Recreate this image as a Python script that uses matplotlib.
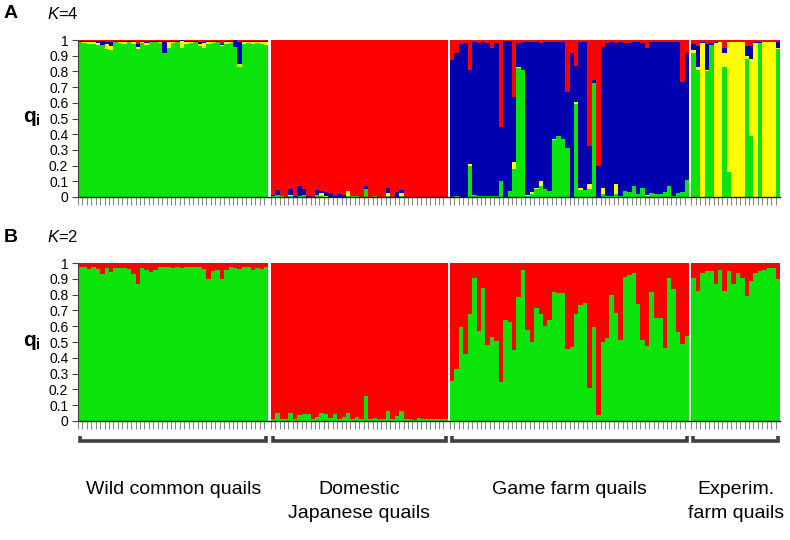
import matplotlib
matplotlib.use('Agg')
import matplotlib.pyplot as plt
import numpy as np

plt.rcParams['font.family'] = ['Liberation Sans', 'DejaVu Sans']
plt.rcParams['mathtext.fontset'] = 'custom'
plt.rcParams['mathtext.rm'] = 'Liberation Sans'
plt.rcParams['mathtext.it'] = 'Liberation Sans:italic'
plt.rcParams['mathtext.bf'] = 'Liberation Sans:bold'

# population labels under the brackets
groups = ['Wild common quails', 'Domestic\nJapanese quails',
          'Game farm quails', 'Experim.\nfarm quails']

# ---- K=4 membership (green, yellow, blue; red is the rest) ----
wild_k4_green = [0.985, 0.98, 0.975, 0.975, 0.97, 0.965, 0.945, 0.935, 0.985, 0.98,
                 0.975, 0.985, 0.975, 0.945, 0.98, 0.965, 0.985, 0.985, 0.98, 0.915,
                 0.95, 0.98, 0.985, 0.95, 0.975, 0.98, 0.985, 0.96, 0.95, 0.975,
                 0.98, 0.985, 0.96, 0.975, 0.98, 0.955, 0.83, 0.975, 0.98, 0.975,
                 0.98, 0.975, 0.965]
wild_k4_yellow = [0.005, 0.008, 0.01, 0.012, 0.01, 0.005, 0.03, 0.025, 0.005, 0.008,
                  0.01, 0.005, 0.012, 0.01, 0.005, 0.015, 0.005, 0.005, 0.008, 0.005,
                  0.04, 0.008, 0.005, 0.045, 0.01, 0.008, 0.005, 0.015, 0.03, 0.01,
                  0.008, 0.005, 0.005, 0.01, 0.008, 0.003, 0.015, 0.01, 0.008, 0.01,
                  0.008, 0.01, 0.025]
wild_k4_blue = [0.005, 0.007, 0.008, 0.006, 0.012, 0.025, 0.015, 0.03, 0.005, 0.006,
                0.008, 0.005, 0.008, 0.02, 0.008, 0.01, 0.005, 0.005, 0.007, 0.075,
                0.005, 0.007, 0.005, 0.003, 0.008, 0.007, 0.005, 0.015, 0.01, 0.008,
                0.006, 0.005, 0.01, 0.008, 0.007, 0.04, 0.14, 0.008, 0.006, 0.008,
                0.006, 0.008, 0.005]

dom_k4_green = [0.005, 0.01, 0.005, 0, 0.005, 0, 0.005, 0.01, 0, 0,
                0.01, 0.005, 0, 0, 0, 0, 0.003, 0.005, 0.005, 0.004,
                0, 0.049, 0, 0.004, 0, 0, 0.005, 0, 0, 0.005,
                0, 0, 0, 0, 0, 0, 0, 0, 0, 0]
dom_k4_yellow = [0, 0, 0, 0, 0.005, 0, 0, 0, 0, 0,
                 0, 0.023, 0.005, 0, 0, 0, 0, 0.033, 0, 0,
                 0, 0.004, 0, 0, 0, 0, 0.02, 0, 0, 0.02,
                 0, 0, 0, 0, 0, 0, 0, 0, 0, 0]
dom_k4_blue = [0.005, 0.033, 0, 0, 0.04, 0.005, 0.063, 0.04, 0.006, 0,
               0.033, 0.01, 0.027, 0.026, 0.005, 0.017, 0.007, 0, 0, 0,
               0, 0.015, 0, 0, 0, 0, 0.032, 0, 0.032, 0.018,
               0, 0, 0, 0, 0, 0, 0, 0, 0, 0]

game_k4_green = [0, 0.005, 0.003, 0.003, 0.198, 0.01, 0.005, 0.008, 0.008, 0.008,
                 0.008, 0.1, 0.003, 0.036, 0.18, 0.82, 0.808, 0.005, 0.02, 0.05,
                 0.07, 0.05, 0.036, 0.366, 0.387, 0.37, 0.313, 0, 0.59, 0.047,
                 0.047, 0.053, 0.723, 0, 0.017, 0.005, 0.005, 0.017, 0.005, 0.036,
                 0.032, 0.07, 0.02, 0.057, 0.004, 0.025, 0.02, 0.02, 0.03, 0.07,
                 0.006, 0.028, 0.03, 0.11]
game_k4_yellow = [0, 0, 0, 0, 0.015, 0, 0, 0, 0, 0,
                  0, 0, 0, 0, 0.04, 0.005, 0, 0.005, 0.01, 0.01,
                  0.03, 0, 0, 0.006, 0, 0, 0, 0, 0.016, 0.013,
                  0, 0.027, 0.005, 0, 0.04, 0, 0, 0.063, 0, 0,
                  0, 0, 0, 0, 0.006, 0, 0, 0, 0, 0,
                  0, 0, 0, 0]
game_k4_blue = [0.872, 0.91, 0.969, 0.977, 0.595, 0.98, 0.975, 0.977, 0.972, 0.942,
                0.972, 0.347, 0.991, 0.958, 0.418, 0.155, 0.182, 0.98, 0.96, 0.925,
                0.88, 0.935, 0.95, 0.613, 0.6, 0.615, 0.357, 0.915, 0.23, 0.93,
                0.943, 0.246, 0.017, 0.198, 0.9, 0.975, 0.98, 0.9, 0.985, 0.944,
                0.95, 0.915, 0.965, 0.925, 0.94, 0.96, 0.965, 0.965, 0.955, 0.915,
                0.98, 0.96, 0.704, 0.805]

exp_k4_green = [0.92, 0.81, 0.0, 0.80, 0.97, 0.0, 0.0, 0.83, 0.16, 0.0,
                0.0, 0.0, 0.88, 0.39, 0.0, 0.98, 0.0, 0.0, 0.0, 0.94]
exp_k4_yellow = [0.015, 0.02, 0.98, 0.01, 0.0, 0.98, 0.99, 0.09, 0.825, 0.99,
                 0.99, 0.985, 0.02, 0.49, 0.98, 0.0, 0.99, 0.985, 0.985, 0.01]
exp_k4_blue = [0.04, 0.13, 0.01, 0.165, 0.01, 0.005, 0.0, 0.03, 0.005, 0.0,
               0.0, 0.0, 0.06, 0.08, 0.005, 0.005, 0.0, 0.0, 0.0, 0.035]

# ---- K=2 membership (green; red is the rest) ----
wild_k2_green = [0.977, 0.972, 0.962, 0.977, 0.962, 0.93, 0.968, 0.943, 0.968, 0.968,
                 0.968, 0.962, 0.93, 0.867, 0.968, 0.958, 0.943, 0.958, 0.975, 0.972,
                 0.972, 0.968, 0.972, 0.968, 0.975, 0.977, 0.977, 0.972, 0.964, 0.9,
                 0.951, 0.958, 0.9, 0.958, 0.975, 0.968, 0.962, 0.972, 0.972, 0.958,
                 0.968, 0.962, 0.972]
dom_k2_green = [0.01, 0.053, 0.01, 0.01, 0.053, 0.015, 0.036, 0.044, 0.047, 0.015,
                0.025, 0.053, 0.047, 0.02, 0.044, 0.015, 0.025, 0.053, 0.015, 0.025,
                0.015, 0.159, 0.015, 0.02, 0.015, 0.015, 0.061, 0.015, 0.03, 0.061,
                0.01, 0.01, 0.006, 0.02, 0.015, 0.01, 0.01, 0.01, 0.01, 0.01]
game_k2_green = [0.254, 0.326, 0.597, 0.426, 0.676, 0.905, 0.57, 0.841, 0.479, 0.534,
                 0.506, 0.248, 0.638, 0.627, 0.449, 0.782, 0.958, 0.576, 0.5, 0.718,
                 0.676, 0.6, 0.64, 0.816, 0.809, 0.81, 0.453, 0.47, 0.676, 0.735,
                 0.746, 0.206, 0.597, 0.04, 0.498, 0.528, 0.8, 0.682, 0.513, 0.909,
                 0.926, 0.936, 0.74, 0.513, 0.475, 0.816, 0.655, 0.655, 0.464, 0.905,
                 0.835, 0.561, 0.485, 0.54]
exp_k2_green = [0.905, 0.82, 0.937, 0.947, 0.947, 0.87, 0.954, 0.82, 0.947, 0.87,
                0.937, 0.905, 0.79, 0.884, 0.937, 0.947, 0.958, 0.968, 0.968, 0.9]

GREEN = '#0be40b'
YELLOW = '#ffff00'
BLUE = '#0000b0'
RED = '#ff0000'

gap = 0.5
sizes = [len(wild_k2_green), len(dom_k2_green), len(game_k2_green), len(exp_k2_green)]
lefts = []
spans = []
start = 0.0
for n in sizes:
    lefts.extend(start + np.arange(n))
    spans.append((start, start + n))
    start += n + gap
lefts = np.array(lefts)
xmax = spans[-1][1]

k4_green = np.array(wild_k4_green + dom_k4_green + game_k4_green + exp_k4_green)
k4_yellow = np.array(wild_k4_yellow + dom_k4_yellow + game_k4_yellow + exp_k4_yellow)
k4_blue = np.array(wild_k4_blue + dom_k4_blue + game_k4_blue + exp_k4_blue)
k4_red = np.clip(1 - k4_green - k4_yellow - k4_blue, 0, 1)
k2_green = np.array(wild_k2_green + dom_k2_green + game_k2_green + exp_k2_green)
k2_red = 1 - k2_green


def draw_structure(ax, props, colors):
    bottom = np.zeros(len(lefts))
    for p, c in zip(props, colors):
        ax.bar(lefts, p, width=1, bottom=bottom, align='edge', color=c,
               linewidth=0, antialiased=False)
        bottom = bottom + p
    ax.set_xlim(0, xmax)
    ax.set_ylim(0, 1)
    ax.set_yticks(np.arange(0, 1.01, 0.1))
    ax.set_yticklabels(['0'] + ['%.1f' % v for v in np.arange(0.1, 0.95, 0.1)] + ['1'])
    ax.set_xticks(lefts)
    ax.tick_params(axis='x', length=6, width=0.8, color='#8a8a8a', labelbottom=False)
    ax.tick_params(axis='y', length=4, width=0.8, color='#444444', labelsize=10, pad=3)
    for s in ['top', 'right']:
        ax.spines[s].set_visible(False)
    ax.spines['left'].set_color('#444444')
    ax.spines['left'].set_linewidth(0.8)
    ax.spines['bottom'].set_color('#222222')
    ax.spines['bottom'].set_linewidth(1.0)


W, H = 790, 540
fig = plt.figure(figsize=(7.9, 5.4), dpi=100)

axA = fig.add_axes([78 / W, 1 - 197 / H, 702 / W, 157 / H])
draw_structure(axA, [k4_green, k4_yellow, k4_blue, k4_red], [GREEN, YELLOW, BLUE, RED])

axB = fig.add_axes([78 / W, 1 - 421 / H, 702 / W, 158 / H])
draw_structure(axB, [k2_green, k2_red], [GREEN, RED])

# panel letters, K values and y labels
for letter, k, ytop, ymid in [('A', 4, 14, 118), ('B', 2, 237, 342)]:
    fig.text(11 / W, 1 - ytop / H, letter, fontsize=14, fontweight='bold',
             ha='center', va='center')
    fig.text(47 / W, 1 - ytop / H, r'$K$=%d' % k, fontsize=12, ha='left', va='center')
    fig.text(32 / W, 1 - ymid / H, r'$\mathbf{q}_\mathbf{i}$', fontsize=15,
             ha='center', va='center')

# brackets and population names
axL = fig.add_axes([78 / W, 0, 702 / W, 1 - 425 / H])
axL.set_xlim(0, xmax)
axL.set_ylim(115, 0)   # pixel rows below y=425
axL.axis('off')
for (x0, x1), name in zip(spans, groups):
    axL.plot([x0 + 0.45, x0 + 0.45, x1 - 0.45, x1 - 0.45], [11, 16, 16, 11],
             color='#404040', lw=2.6, solid_capstyle='butt', solid_joinstyle='miter')
    axL.text((x0 + x1) / 2, 56, name, fontsize=14, ha='center', va='top',
             linespacing=1.55)

fig.savefig('out.png', dpi=100)
